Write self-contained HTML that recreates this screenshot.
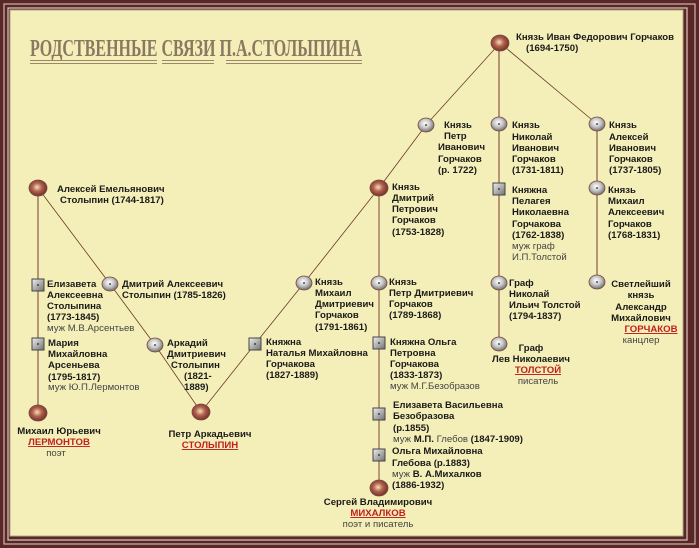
<!DOCTYPE html>
<html><head><meta charset="utf-8"><style>
html,body{margin:0;padding:0;background:#f4efb8}
svg{display:block}
text{font-family:"Liberation Sans","DejaVu Sans",sans-serif;font-size:9.6px;font-weight:bold;fill:#1a1a1a}
.n{font-weight:normal;fill:#444}
.r{fill:#c02020;text-decoration:underline}
.c{text-anchor:middle}
</style></head><body>
<svg width="699" height="548" viewBox="0 0 699 548" xmlns="http://www.w3.org/2000/svg">
<defs>
<radialGradient id="g" cx="45%" cy="40%" r="60%"><stop offset="0" stop-color="#ffffff"/><stop offset="0.5" stop-color="#c8c8c8"/><stop offset="1" stop-color="#707070"/></radialGradient>
<radialGradient id="b" cx="45%" cy="45%" r="60%"><stop offset="0" stop-color="#f8e0b0"/><stop offset="0.45" stop-color="#b06050"/><stop offset="1" stop-color="#6a2a22"/></radialGradient>
<linearGradient id="s" x1="0" y1="0" x2="1" y2="1"><stop offset="0" stop-color="#f0f0f0"/><stop offset="1" stop-color="#707070"/></linearGradient>
</defs>
<rect x="0" y="0" width="699" height="548" fill="#5a2626"/>
<rect x="4" y="4" width="691" height="540" fill="none" stroke="#c9b8b0" stroke-width="1.2"/>
<rect x="8" y="8" width="679" height="532" fill="none" stroke="#d8ccc0" stroke-width="1.2"/>
<rect x="10" y="10" width="673" height="526" fill="#f4efb8" stroke="#b8a888" stroke-width="1"/>
<text x="30" y="56" textLength="332" lengthAdjust="spacingAndGlyphs" style="font-size:24px;font-weight:bold;fill:#8a7860;font-family:'Liberation Serif','DejaVu Serif',serif">РОДСТВЕННЫЕ СВЯЗИ  П.А.СТОЛЫПИНА</text>
<g stroke="#9a8868" stroke-width="1"><line x1="30" y1="60.5" x2="157" y2="60.5"/><line x1="30" y1="63.5" x2="157" y2="63.5"/><line x1="162" y1="60.5" x2="214" y2="60.5"/><line x1="162" y1="63.5" x2="214" y2="63.5"/><line x1="226" y1="60.5" x2="362" y2="60.5"/><line x1="226" y1="63.5" x2="362" y2="63.5"/></g>
<g stroke="#6a3a2a" stroke-width="0.8" fill="none">
<polyline points="38,188 110,284 155,345 201,412 255,344 304,283 379,188 426,125 500,43 597,124"/>
</g>
<g stroke="#8a5a48" stroke-width="1.2"><line x1="38" y1="188" x2="38" y2="413"/><line x1="499" y1="43" x2="499" y2="343"/><line x1="597" y1="124" x2="597" y2="282"/></g>
<line x1="379" y1="188" x2="379" y2="487" stroke="#b89a78" stroke-width="2"/>
<g stroke="#7a4a40" stroke-width="0.8">
<ellipse cx="500" cy="43" rx="9" ry="8" fill="url(#b)"/>
<ellipse cx="379" cy="188" rx="9" ry="8" fill="url(#b)"/>
<ellipse cx="379" cy="488" rx="9" ry="8" fill="url(#b)"/>
<ellipse cx="201" cy="412" rx="9" ry="8" fill="url(#b)"/>
<ellipse cx="38" cy="188" rx="9" ry="8" fill="url(#b)"/>
<ellipse cx="38" cy="413" rx="9" ry="8" fill="url(#b)"/>
<ellipse cx="426" cy="125" rx="8" ry="7" fill="url(#g)"/>
<ellipse cx="499" cy="124" rx="8" ry="7" fill="url(#g)"/>
<ellipse cx="597" cy="124" rx="8" ry="7" fill="url(#g)"/>
<ellipse cx="597" cy="188" rx="8" ry="7" fill="url(#g)"/>
<ellipse cx="499" cy="283" rx="8" ry="7" fill="url(#g)"/>
<ellipse cx="597" cy="282" rx="8" ry="7" fill="url(#g)"/>
<ellipse cx="499" cy="344" rx="8" ry="7" fill="url(#g)"/>
<ellipse cx="379" cy="283" rx="8" ry="7" fill="url(#g)"/>
<ellipse cx="304" cy="283" rx="8" ry="7" fill="url(#g)"/>
<ellipse cx="155" cy="345" rx="8" ry="7" fill="url(#g)"/>
<ellipse cx="110" cy="284" rx="8" ry="7" fill="url(#g)"/>
</g>
<g fill="url(#s)" stroke="#444" stroke-width="1">
<rect x="493" y="183" width="12" height="12"/>
<rect x="373" y="337" width="12" height="12"/>
<rect x="373" y="408" width="12" height="12"/>
<rect x="373" y="449" width="12" height="12"/>
<rect x="249" y="338" width="12" height="12"/>
<rect x="32" y="279" width="12" height="12"/>
<rect x="32" y="338" width="12" height="12"/>
</g>
<g fill="#222">
<circle cx="426" cy="125" r="0.9"/><circle cx="499" cy="124" r="0.9"/><circle cx="597" cy="124" r="0.9"/><circle cx="597" cy="188" r="0.9"/><circle cx="499" cy="283" r="0.9"/><circle cx="597" cy="282" r="0.9"/><circle cx="499" cy="344" r="0.9"/><circle cx="379" cy="283" r="0.9"/><circle cx="304" cy="283" r="0.9"/><circle cx="155" cy="345" r="0.9"/><circle cx="110" cy="284" r="0.9"/>
<circle cx="499" cy="189" r="0.9"/><circle cx="379" cy="343" r="0.9"/><circle cx="379" cy="414" r="0.9"/><circle cx="379" cy="455" r="0.9"/><circle cx="255" cy="344" r="0.9"/><circle cx="38" cy="285" r="0.9"/><circle cx="38" cy="344" r="0.9"/>
</g>

<text x="516" y="40">Князь Иван Федорович Горчаков</text>
<text x="526" y="51">(1694-1750)</text>

<text x="444" y="128">Князь</text><text x="444" y="139">Петр</text><text x="438" y="150">Иванович</text><text x="438" y="162">Горчаков</text><text x="438" y="173">(р. 1722)</text>

<text x="512" y="128">Князь</text><text x="512" y="140">Николай</text><text x="512" y="151">Иванович</text><text x="512" y="162">Горчаков</text><text x="512" y="173">(1731-1811)</text>

<text x="609" y="128">Князь</text><text x="609" y="140">Алексей</text><text x="609" y="151">Иванович</text><text x="609" y="162">Горчаков</text><text x="609" y="173">(1737-1805)</text>

<text x="512" y="193">Княжна</text><text x="512" y="204">Пелагея</text><text x="512" y="215">Николаевна</text><text x="512" y="227">Горчакова</text><text x="512" y="238">(1762-1838)</text>
<text x="512" y="249" class="n">муж граф</text><text x="512" y="260" class="n">И.П.Толстой</text>

<text x="608" y="193">Князь</text><text x="608" y="204">Михаил</text><text x="608" y="215">Алексеевич</text><text x="608" y="227">Горчаков</text><text x="608" y="238">(1768-1831)</text>

<text x="509" y="286">Граф</text><text x="509" y="297">Николай</text><text x="509" y="308">Ильич Толстой</text><text x="509" y="319">(1794-1837)</text>

<text class="c" x="641" y="287">Светлейший</text><text class="c" x="641" y="298">князь</text><text class="c" x="641" y="310">Александр</text><text class="c" x="641" y="321">Михайлович</text>
<text class="c r" x="651" y="332">ГОРЧАКОВ</text><text class="c n" x="641" y="343">канцлер</text>

<text class="c" x="531" y="351">Граф</text><text class="c" x="531" y="362">Лев Николаевич</text><text class="c r" x="538" y="373">ТОЛСТОЙ</text><text class="c n" x="538" y="384">писатель</text>

<text x="392" y="190">Князь</text><text x="392" y="201">Дмитрий</text><text x="392" y="212">Петрович</text><text x="392" y="223">Горчаков</text><text x="392" y="235">(1753-1828)</text>

<text x="389" y="285">Князь</text><text x="389" y="296">Петр Дмитриевич</text><text x="389" y="307">Горчаков</text><text x="389" y="318">(1789-1868)</text>

<text x="390" y="345">Княжна Ольга</text><text x="390" y="356">Петровна</text><text x="390" y="367">Горчакова</text><text x="390" y="378">(1833-1873)</text><text x="390" y="389" class="n">муж М.Г.Безобразов</text>

<text x="393" y="408">Елизавета Васильевна</text><text x="393" y="419">Безобразова</text><text x="393" y="431">(р.1855)</text>
<text x="393" y="442"><tspan class="n">муж  </tspan>М.П. <tspan class="n">Глебов </tspan>(1847-1909)</text>

<text x="392" y="454">Ольга Михайловна</text><text x="392" y="466">Глебова (р.1883)</text>
<text x="392" y="477"><tspan class="n">муж </tspan>В. А.Михалков</text><text x="392" y="488">(1886-1932)</text>

<text class="c" x="378" y="505">Сергей Владимирович</text><text class="c r" x="378" y="516">МИХАЛКОВ</text><text class="c n" x="378" y="527">поэт и писатель</text>

<text x="315" y="285">Князь</text><text x="315" y="296">Михаил</text><text x="315" y="307">Дмитриевич</text><text x="315" y="318">Горчаков</text><text x="315" y="330">(1791-1861)</text>

<text x="266" y="345">Княжна</text><text x="266" y="356">Наталья Михайловна</text><text x="266" y="367">Горчакова</text><text x="266" y="378">(1827-1889)</text>

<text class="c" x="210" y="437">Петр Аркадьевич</text><text class="c r" x="210" y="448">СТОЛЫПИН</text>

<text x="167" y="346">Аркадий</text><text x="167" y="357">Дмитриевич</text><text x="171" y="368">Столыпин</text><text x="184" y="379">(1821-</text><text x="184" y="390">1889)</text>

<text x="122" y="287">Дмитрий Алексеевич</text><text x="122" y="298">Столыпин (1785-1826)</text>

<text x="57" y="192">Алексей Емельянович</text><text x="60" y="203">Столыпин (1744-1817)</text>

<text x="47" y="287">Елизавета</text><text x="47" y="298">Алексеевна</text><text x="47" y="309">Столыпина</text><text x="47" y="320">(1773-1845)</text><text x="47" y="331" class="n">муж М.В.Арсентьев</text>

<text x="48" y="346">Мария</text><text x="48" y="357">Михайловна</text><text x="48" y="368">Арсеньева</text><text x="48" y="380">(1795-1817)</text><text x="48" y="390" class="n">муж Ю.П.Лермонтов</text>

<text class="c" x="59" y="434">Михаил Юрьевич</text><text class="c r" x="59" y="445">ЛЕРМОНТОВ</text><text class="c n" x="56" y="456">поэт</text>
</svg>
</body></html>
